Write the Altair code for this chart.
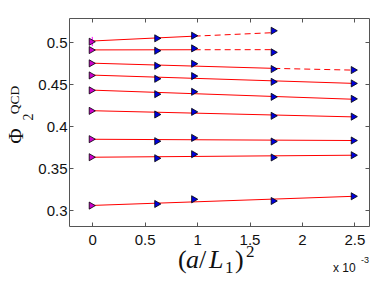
import altair as alt
import pandas as pd

# (a/L1)^2 in units of 1e-3
x_vals = [0.0, 0.625, 0.977, 1.736, 2.5]

phi_1 = [0.5007, 0.5048, 0.5079, 0.5138, None]
phi_2 = [0.4908, 0.4900, 0.4928, 0.4881, None]
phi_3 = [0.4750, 0.4721, 0.4745, 0.4682, 0.4670]
phi_4 = [0.4606, 0.4566, 0.4598, 0.4530, 0.4511]
phi_5 = [0.4428, 0.4383, 0.4411, 0.4351, 0.4327]
phi_6 = [0.4184, 0.4141, 0.4172, 0.4125, 0.4115]
phi_7 = [0.3847, 0.3823, 0.3862, 0.3819, 0.3831]
phi_8 = [0.3632, 0.3620, 0.3668, 0.3629, 0.3656]
phi_9 = [0.3056, 0.3075, 0.3131, 0.3111, 0.3167]
all_series = [phi_1, phi_2, phi_3, phi_4, phi_5, phi_6, phi_7, phi_8, phi_9]

# fit lines: (x start, y start, x end, y end)
solid_x0 = [0, 0, 0, 0, 0, 0, 0, 0, 0]
solid_y0 = [0.5016, 0.4910, 0.4752, 0.4610, 0.4431, 0.4186, 0.3846, 0.3632, 0.3058]
solid_x1 = [0.977, 0.977, 1.736, 2.5, 2.5, 2.5, 2.5, 2.5, 2.5]
solid_y1 = [0.5074, 0.4912, 0.4690, 0.4511, 0.4322, 0.4112, 0.3831, 0.3656, 0.3167]

dash_x0 = [0.977, 0.977, 1.736]
dash_y0 = [0.5074, 0.4912, 0.4690]
dash_x1 = [1.736, 1.736, 2.5]
dash_y1 = [0.5116, 0.4913, 0.4669]

# error bar on first point
err_x = [0.0]
err_lo = [0.4955]
err_hi = [0.5065]

x_ticks = [0, 0.5, 1, 1.5, 2, 2.5]
y_ticks = [0.3, 0.35, 0.4, 0.45, 0.5]

rows = []
for s in all_series:
    for xv, yv in zip(x_vals, s):
        if yv is not None:
            rows.append({"x": xv, "y": yv, "kind": "first" if xv == 0 else "rest"})
pts = pd.DataFrame(rows)
solid = pd.DataFrame({"x": solid_x0, "y": solid_y0, "x2": solid_x1, "y2": solid_y1})
dashed = pd.DataFrame({"x": dash_x0, "y": dash_y0, "x2": dash_x1, "y2": dash_y1})
err = pd.DataFrame({"x": err_x, "y": err_lo, "y2": err_hi})

xs = alt.Scale(domain=[-0.222, 2.640], nice=False, zero=False)
ys = alt.Scale(domain=[0.2813, 0.529], nice=False, zero=False)

lab = dict(labelFont="Liberation Sans", labelFontSize=15, labelColor="#111",
           tickColor="#555", tickSize=4, offset=-4, domain=False, grid=False, title=None)

x_bottom = alt.Axis(orient="bottom", values=x_ticks, format="~g", labelPadding=6, **lab)
y_left = alt.Axis(orient="left", values=y_ticks, format="~g", labelPadding=2, **lab)
x_top = alt.Axis(orient="top", values=x_ticks, labels=False, **lab)
y_right = alt.Axis(orient="right", values=y_ticks, labels=False, **lab)

solid_layer = alt.Chart(solid).mark_rule(color="#ff0000", strokeWidth=1).encode(
    x=alt.X("x:Q", scale=xs, axis=x_top), x2="x2",
    y=alt.Y("y:Q", scale=ys, axis=y_right), y2="y2")

dash_layer = alt.Chart(dashed).mark_rule(color="#ff0000", strokeWidth=1, strokeDash=[6, 4]).encode(
    x=alt.X("x:Q", scale=xs, axis=None), x2="x2",
    y=alt.Y("y:Q", scale=ys, axis=None), y2="y2")

err_layer = alt.Chart(err).mark_rule(color="#ff00ff", strokeWidth=1).encode(
    x=alt.X("x:Q", scale=xs, axis=None),
    y=alt.Y("y:Q", scale=ys, axis=None), y2="y2")

pt_layer = alt.Chart(pts).mark_point(shape="triangle-right", filled=True, size=50,
                                     stroke="black", strokeWidth=0.8, opacity=1).encode(
    x=alt.X("x:Q", scale=xs, axis=x_bottom),
    y=alt.Y("y:Q", scale=ys, axis=y_left),
    fill=alt.Fill("kind:N", scale=alt.Scale(domain=["first", "rest"], range=["#cc00cc", "#0000dd"]), legend=None))


def txt(s, x, y, size, font="Liberation Serif", style="normal", angle=0, align="center", baseline="middle", color="#111"):
    return alt.Chart(pd.DataFrame({"t": [s]})).mark_text(
        font=font, fontSize=size, fontStyle=style, angle=angle, align=align,
        baseline=baseline, color=color).encode(text="t:N", x=alt.value(x), y=alt.value(y))

texts = [
    txt("Φ", -52, 118, 21, angle=270),
    txt("2", -40, 99, 14, angle=270),
    txt("QCD", -54, 82, 13.5, angle=270),
    txt("(", 109, 250, 26, align="left", baseline="alphabetic"),
    txt("a", 117, 250, 26, style="italic", align="left", baseline="alphabetic"),
    txt("/", 130, 250, 26, align="left", baseline="alphabetic"),
    txt("L", 140, 250, 26, style="italic", align="left", baseline="alphabetic"),
    txt("1", 156, 255, 17, align="left", baseline="alphabetic"),
    txt(")", 166, 250, 26, align="left", baseline="alphabetic"),
    txt("2", 177, 239, 17, align="left", baseline="alphabetic"),
    txt("x 10", 264, 254, 12, font="Liberation Sans", align="left", baseline="alphabetic"),
    txt("-3", 292, 245, 9, font="Liberation Sans", align="left", baseline="alphabetic"),
]

chart = alt.layer(solid_layer, dash_layer, err_layer, pt_layer, *texts).resolve_axis(
    x="independent", y="independent").properties(
    width=300, height=208, autosize="none",
    padding={"left": 61, "top": 10, "right": 1, "bottom": 50}
).configure_view(stroke="#555", strokeWidth=1)

chart.save("out.html", embed_options={"renderer": "svg", "actions": False})
